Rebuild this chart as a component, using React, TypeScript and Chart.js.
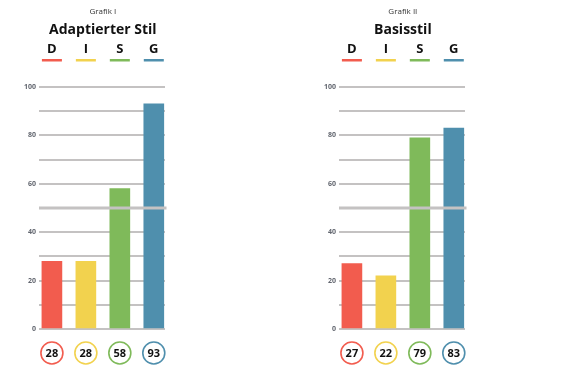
import React, { useEffect, useRef } from "react";
import { Chart, registerables } from "chart.js";

Chart.register(...registerables);

const categories = ["D", "I", "S", "G"];
const adaptedValues = [28, 28, 58, 93];
const basicValues = [27, 22, 79, 83];
const barColors = ["#F25C4E", "#F2D24E", "#7FBA5A", "#4F8FAD"];
const yMin = 0;
const yMax = 100;
const yStep = 10;
const yLabelStep = 20;
const midLine = 50;

const FONT = "'Open Sans', 'DejaVu Sans', sans-serif";

function makeChart(canvas: HTMLCanvasElement, subtitle: string, title: string, values: number[]) {
  const xOf = (chart: any, i: number) => chart.scales.x.getPixelForValue(i);

  const overlay = {
    id: "overlay",
    afterDatasetsDraw(chart: any) {
      const { ctx, chartArea } = chart;
      const y = chart.scales.y.getPixelForValue(midLine);
      ctx.save();
      ctx.fillStyle = "#c4c2c2";
      ctx.fillRect(chartArea.left, y - 1.5, chartArea.right - chartArea.left + 1.5, 3);
      ctx.restore();
    },
    afterDraw(chart: any) {
      const { ctx, chartArea } = chart;
      const cx = (xOf(chart, 0) + xOf(chart, categories.length - 1)) / 2;
      ctx.save();
      ctx.textAlign = "center";
      ctx.textBaseline = "middle";
      ctx.fillStyle = "#333333";
      ctx.font = `400 8px ${FONT}`;
      ctx.fillText(subtitle, cx, 12);
      ctx.fillStyle = "#111111";
      ctx.font = `700 14px ${FONT}`;
      ctx.fillText(title, cx, 30);
      categories.forEach((c, i) => {
        const x = xOf(chart, i);
        ctx.fillStyle = "#111111";
        ctx.font = `700 13px ${FONT}`;
        ctx.fillText(c, x, 49);
        ctx.fillStyle = barColors[i];
        ctx.fillRect(x - 10, 59, 20, 2.5);
      });
      const cy = chartArea.bottom + 24;
      values.forEach((v, i) => {
        const x = xOf(chart, i);
        ctx.beginPath();
        ctx.arc(x, cy, 11, 0, Math.PI * 2);
        ctx.fillStyle = "#ffffff";
        ctx.fill();
        ctx.lineWidth = 1.6;
        ctx.strokeStyle = barColors[i];
        ctx.stroke();
        ctx.fillStyle = "#111111";
        ctx.font = `700 11px ${FONT}`;
        ctx.fillText(String(v), x, cy + 0.5);
      });
      ctx.restore();
    },
  };

  return new Chart(canvas, {
    type: "bar",
    data: {
      datasets: [
        {
          data: values.map((v, i) => ({ x: i, y: v })),
          backgroundColor: barColors,
          borderWidth: 0,
          barThickness: 20,
        },
      ],
    },
    options: {
      animation: false,
      responsive: false,
      devicePixelRatio: 1,
      layout: { padding: { left: 0, top: 87, right: 101, bottom: 47 } },
      plugins: { legend: { display: false }, tooltip: { enabled: false }, title: { display: false } },
      scales: {
        x: { type: "linear", min: -0.38, max: 3.33, offset: false, grid: { offset: false }, display: false },
        y: {
          min: yMin,
          max: yMax,
          afterFit: (s: any) => {
            s.width = 39;
          },
          border: { display: false },
          grid: { color: "#c4c2c2", lineWidth: 2, drawTicks: false },
          ticks: {
            stepSize: yStep,
            autoSkip: false,
            padding: 3,
            color: "#62666f",
            font: { family: FONT, size: 7, weight: "bold" },
            callback: (v: any) => (Number(v) % yLabelStep === 0 ? String(v) : ""),
          },
        },
      },
    },
    plugins: [overlay],
  } as any);
}

export default function App() {
  const leftRef = useRef<HTMLCanvasElement>(null);
  const rightRef = useRef<HTMLCanvasElement>(null);
  useEffect(() => {
    const a = makeChart(leftRef.current!, "Grafik I", "Adaptierter Stil", adaptedValues);
    const b = makeChart(rightRef.current!, "Grafik II", "Basisstil", basicValues);
    return () => {
      a.destroy();
      b.destroy();
    };
  }, []);
  return (
    <div style={{ position: "absolute", left: 0, top: 0, width: 566, height: 376, background: "#ffffff" }}>
      <canvas ref={leftRef} width={266} height={376} style={{ position: "absolute", left: 0, top: 0 }} />
      <canvas ref={rightRef} width={266} height={376} style={{ position: "absolute", left: 300, top: 0 }} />
    </div>
  );
}
